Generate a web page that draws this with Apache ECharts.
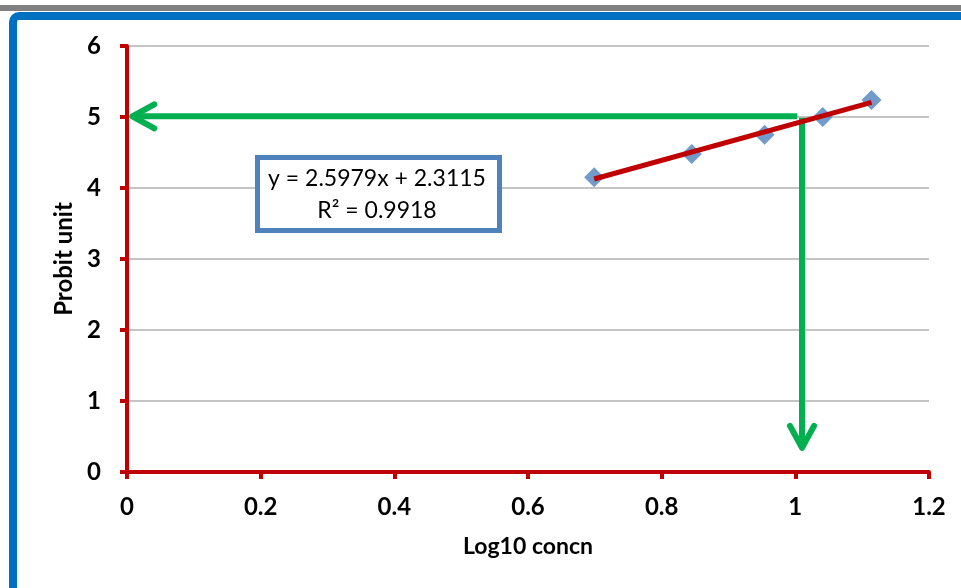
<!DOCTYPE html>
<html>
<head>
<meta charset="utf-8">
<script src="https://cdn.jsdelivr.net/npm/echarts@6/dist/echarts.min.js"></script>
<style>
  html, body { margin: 0; padding: 0; background: #fff; }
  #chart { width: 961px; height: 588px; }
</style>
</head>
<body>
<div id="chart"></div>
<script>
// ---- data ----
const logConc = [0.699, 0.845, 0.954, 1.041, 1.114];
const probit = [4.15, 4.48, 4.75, 5.00, 5.24];
const trendX = [0.699, 1.114];
const trendY = [4.127, 5.205];
// arrows: [x1, y1, x2 (tip), y2 (tip)]
const arrowHoriz = [1.003, 5.01, 0.008, 5.01];
const arrowVert = [1.010, 4.99, 1.010, 0.34];
const xTickInterval = 0.2;
const yTickInterval = 1;
const xTitle = 'Log10 concn';
const yTitle = 'Probit unit';
const eqLine1 = 'y = 2.5979x + 2.3115';
const eqLine2 = 'R² = 0.9918';

const FONT = 'Lato, "Open Sans", sans-serif';
const RED = '#C00000';
const GREEN = '#00B050';
const BLUE = '#4F81BD';

const chart = echarts.init(document.getElementById('chart'), null, { renderer: 'canvas' });

function arrowRender(params, api) {
  const p1 = api.coord([api.value(0), api.value(1)]);
  const p2 = api.coord([api.value(2), api.value(3)]);
  const dx = p2[0] - p1[0], dy = p2[1] - p1[1];
  const len = Math.hypot(dx, dy) || 1;
  const ux = dx / len, uy = dy / len;
  const L = 22, W = 12;
  const bx = p2[0] - ux * L, by = p2[1] - uy * L;
  const a1 = [bx - uy * W, by + ux * W];
  const a2 = [bx + uy * W, by - ux * W];
  return {
    type: 'group',
    children: [
      { type: 'polyline', shape: { points: [p1, [p2[0] - ux * 2, p2[1] - uy * 2]] },
        style: { stroke: GREEN, lineWidth: 6, fill: null, lineCap: 'butt' } },
      { type: 'polyline', shape: { points: [a1, p2, a2] },
        style: { stroke: GREEN, lineWidth: 6, fill: null, lineCap: 'round', lineJoin: 'round' } }
    ]
  };
}

const option = {
  animation: false,
  backgroundColor: '#fff',
  grid: { left: 127, right: 32, top: 46, bottom: 116, containLabel: false },
  xAxis: {
    type: 'value', min: 0, max: 1.2, interval: xTickInterval,
    name: xTitle, nameLocation: 'middle', nameGap: 63,
    nameTextStyle: { fontFamily: FONT, fontSize: 23, fontWeight: 'bold', color: '#000' },
    axisLine: { show: true, lineStyle: { color: RED, width: 4 } },
    axisTick: { show: true, inside: false, length: 7, lineStyle: { color: RED, width: 4 } },
    axisLabel: { margin: 23, fontFamily: FONT, fontSize: 24, fontWeight: 'bold', color: '#000' },
    splitLine: { show: false }
  },
  yAxis: {
    type: 'value', min: 0, max: 6, interval: yTickInterval,
    name: yTitle, nameLocation: 'middle', nameGap: 50, nameRotate: 90,
    nameTextStyle: { fontFamily: FONT, fontSize: 24, fontWeight: 'bold', color: '#000' },
    axisLine: { show: true, lineStyle: { color: RED, width: 4 } },
    axisTick: { show: true, inside: false, length: 7, lineStyle: { color: RED, width: 4 } },
    axisLabel: { margin: 26, fontFamily: FONT, fontSize: 24, fontWeight: 'bold', color: '#000' },
    splitLine: { show: true, lineStyle: { color: '#B0B0B0', width: 1.5 } }
  },
  series: [
    {
      type: 'custom', name: 'arrows', coordinateSystem: 'cartesian2d',
      renderItem: arrowRender, clip: false, z: 3,
      encode: { x: [0, 2], y: [1, 3] },
      data: [arrowHoriz, arrowVert]
    },
    {
      type: 'scatter', name: 'data', z: 4,
      symbol: 'diamond', symbolSize: 20,
      itemStyle: { color: BLUE },
      data: logConc.map((x, i) => [x, probit[i]])
    },
    {
      type: 'line', name: 'trend', z: 5,
      symbol: 'none',
      lineStyle: { color: RED, width: 5 },
      data: trendX.map((x, i) => [x, trendY[i]])
    }
  ],
  graphic: [
    { type: 'rect', z: 100, shape: { x: 0, y: 5, width: 961, height: 6 }, style: { fill: '#808080' } },
    { type: 'rect', z: 100, shape: { x: 13, y: 16, width: 1000, height: 620, r: 6 },
      style: { fill: null, stroke: '#0070C0', lineWidth: 8 } },
    { type: 'rect', z: 100, shape: { x: 257.5, y: 157.5, width: 242, height: 73 },
      style: { fill: '#fff', stroke: BLUE, lineWidth: 5 } },
    { type: 'text', z: 101, x: 377, y: 179,
      style: { text: eqLine1, fontFamily: FONT, fontSize: 23, fill: '#000', align: 'center', verticalAlign: 'middle' } },
    { type: 'text', z: 101, x: 377, y: 211,
      style: { text: eqLine2, fontFamily: FONT, fontSize: 23, fill: '#000', align: 'center', verticalAlign: 'middle' } }
  ]
};
chart.setOption(option);
</script>
</body>
</html>
